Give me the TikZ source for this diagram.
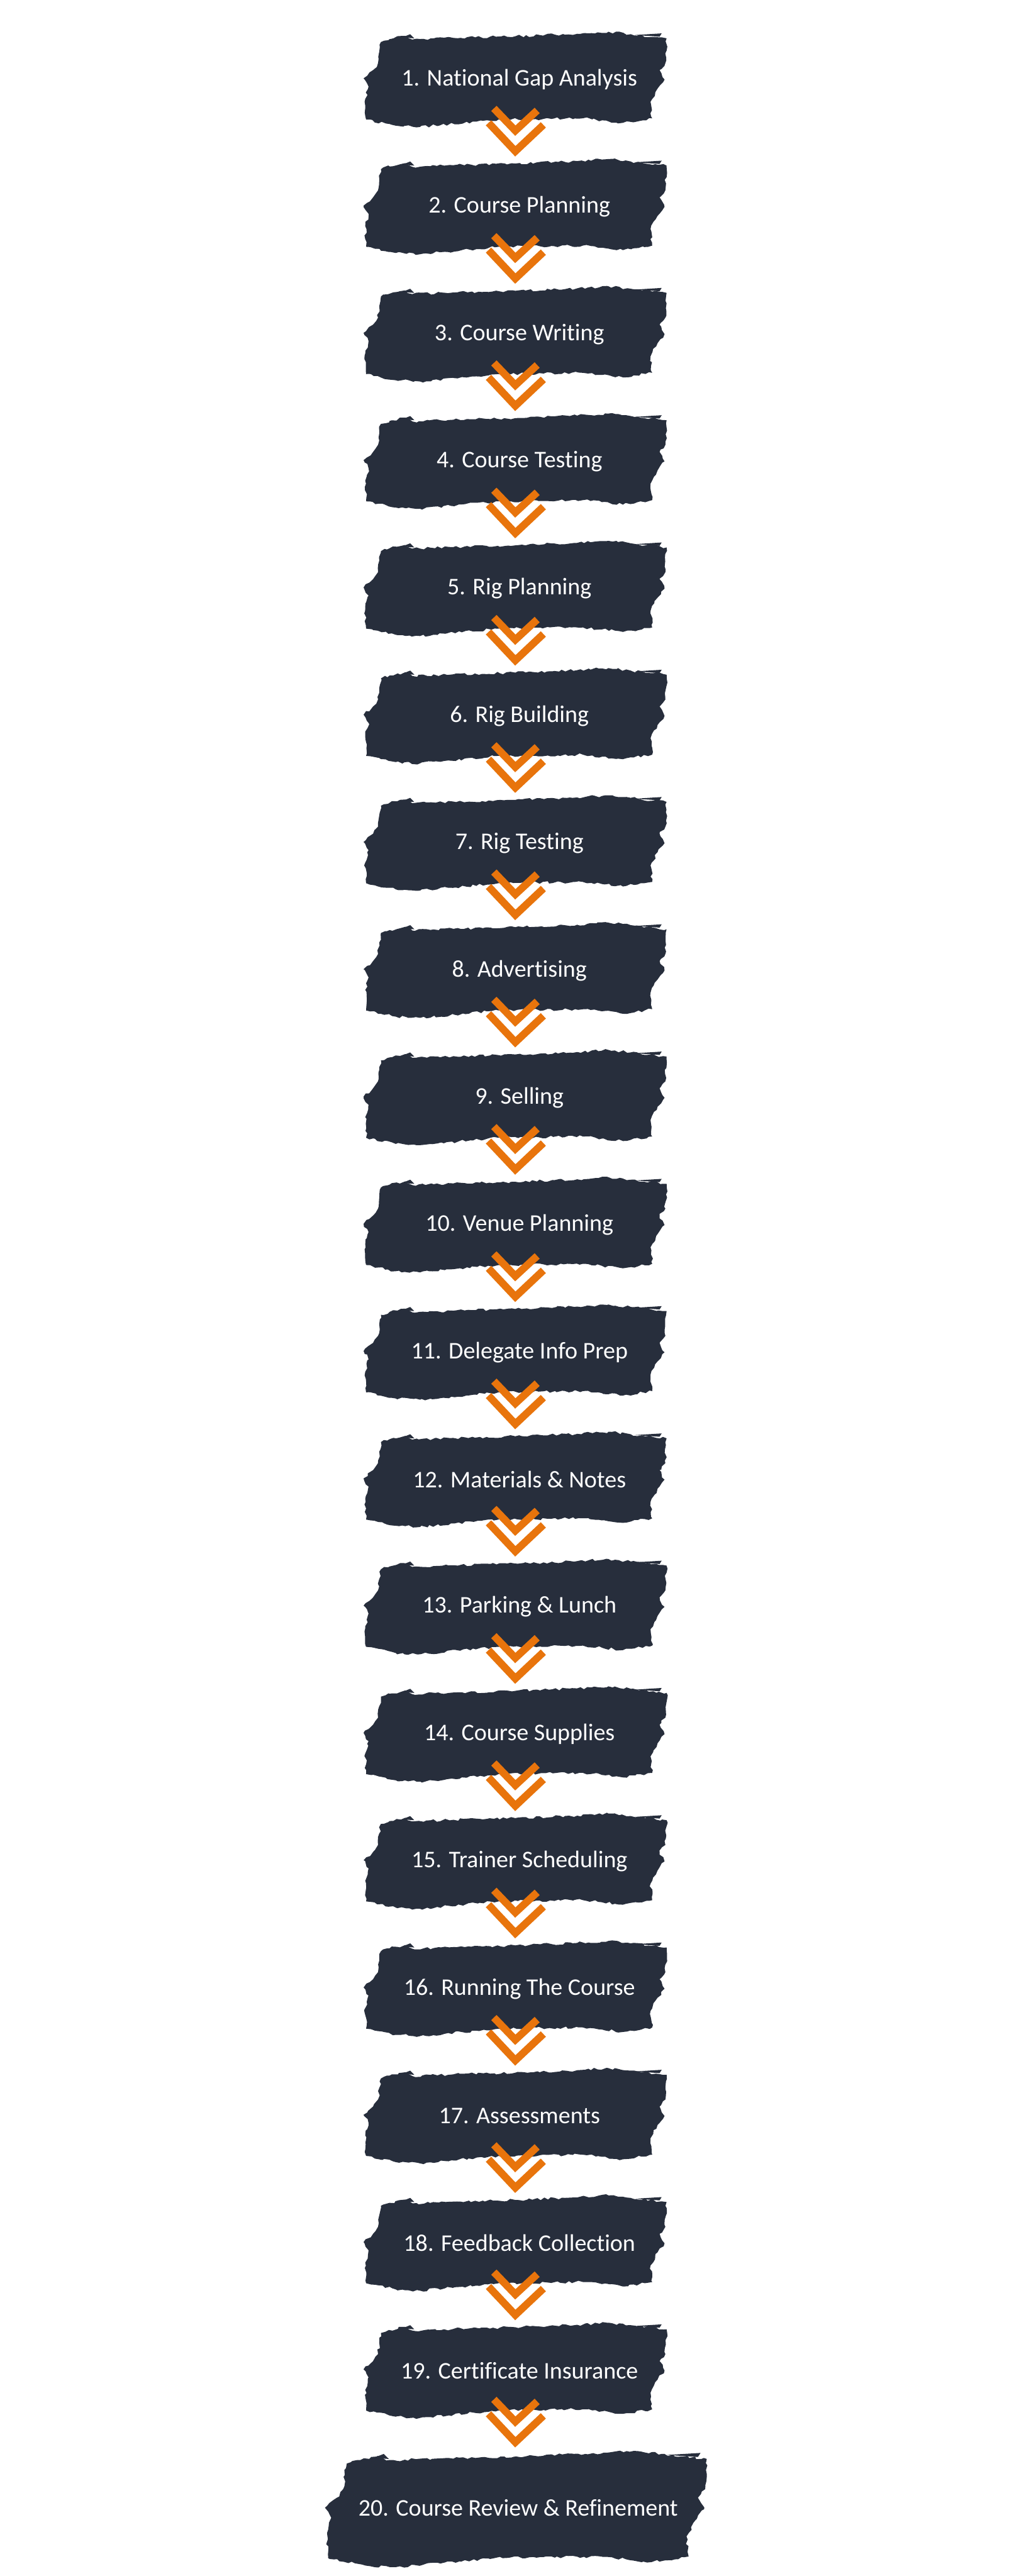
\documentclass[tikz,border=0pt]{standalone}
\usepackage{fontspec}
\setmainfont{Carlito}[Ligatures={NoCommon,NoRare}]
\usetikzlibrary{decorations.pathmorphing}
\definecolor{brushnavy}{HTML}{272E3C}
\definecolor{chevorange}{HTML}{E8740C}

\begin{document}
\begin{tikzpicture}[line join=round,
  brushfill/.style={fill=brushnavy, decorate,
    decoration={random steps,segment length=2.5pt,amplitude=0.9pt}},
  steptext/.style={text=white, font=\fontsize{16.5}{20}\selectfont,
    inner sep=0pt},
  chev/.style={draw=chevorange, line width=1.8mm, line cap=butt,
    line join=miter},
  brushbox/.pic={
    \fill[brushfill] (-3.26,0.91) -- (-3.05,0.98) -- (-2.67,1.06)
      -- (-2.50,0.97) -- (-1.50,1.01) -- (0,1.05) -- (1.50,1.11)
      -- (2.26,1.16) -- (2.80,1.10) -- (3.67,1.00) -- (3.64,0.40)
      -- (3.50,0.23) -- (3.62,0.00) -- (3.45,-0.22) -- (3.28,-0.54)
      -- (3.32,-0.94) -- (2.61,-1.05) -- (2.10,-0.99) -- (1.64,-0.94)
      -- (-0.41,-0.97) -- (-2.31,-1.15) -- (-2.90,-1.12) -- (-3.62,-0.97)
      -- (-3.64,-0.47) -- (-3.56,-0.17) -- (-3.68,0.03) -- (-3.45,0.23)
      -- (-3.33,0.40) -- (-3.30,0.68) -- cycle;
    % loose bristles at the corners
    \fill[brushnavy] (-2.75,1.02) -- (-2.55,1.10) -- (-2.45,1.00) -- cycle;
    \fill[brushnavy] (2.90,1.08) -- (3.55,1.12) -- (3.50,1.04) -- cycle;
    \fill[brushnavy] (-3.60,-0.95) -- (-2.60,-1.08) -- (-3.30,-1.02) -- cycle;
  }]
  \pgfmathsetseed{7}
  \fill[white] (0,0) rectangle (25,-62.5);
  \useasboundingbox (0,0) rectangle (25,-62.5);
  % y = 1.93 + 3.088(i-1), in units of 100px
  \foreach \i/\txt in {1/National Gap Analysis, 2/Course Planning,
      3/Course Writing, 4/Course Testing, 5/Rig Planning,
      6/Rig Building, 7/Rig Testing, 8/Advertising, 9/Selling,
      10/Venue Planning, 11/Delegate Info Prep, 12/Materials \& Notes,
      13/Parking \& Lunch, 14/Course Supplies, 15/Trainer Scheduling,
      16/Running The Course, 17/Assessments, 18/Feedback Collection,
      19/Certificate Insurance} {
    \pgfmathsetmacro\yc{1.93+(\i-1)*3.088}
    \coordinate (b\i) at (12.5,-\yc);
    \pic at (b\i) {brushbox};
    \node[steptext] (s\i) at ([xshift=1mm]b\i) {\i. \txt};
  }
  \coordinate (b20) at (12.52,-60.88);
  \pic[xscale=1.26,yscale=1.22] at (b20) {brushbox};
  \node[steptext] (s20) at ([xshift=0.5mm,yshift=0.3mm]b20)
    {20. Course Review \& Refinement};
  % double chevrons between the steps
  \foreach \i in {1,...,19} {
    \draw[chev] ([shift={(-0.52,-0.70)}]b\i) -- ([shift={(0,-1.24)}]b\i)
      -- ([shift={(0.53,-0.75)}]b\i);
    \draw[chev] ([shift={(-0.65,-1.05)}]b\i) -- ([shift={(0,-1.74)}]b\i)
      -- ([shift={(0.68,-1.10)}]b\i);
  }
\end{tikzpicture}
\end{document}
